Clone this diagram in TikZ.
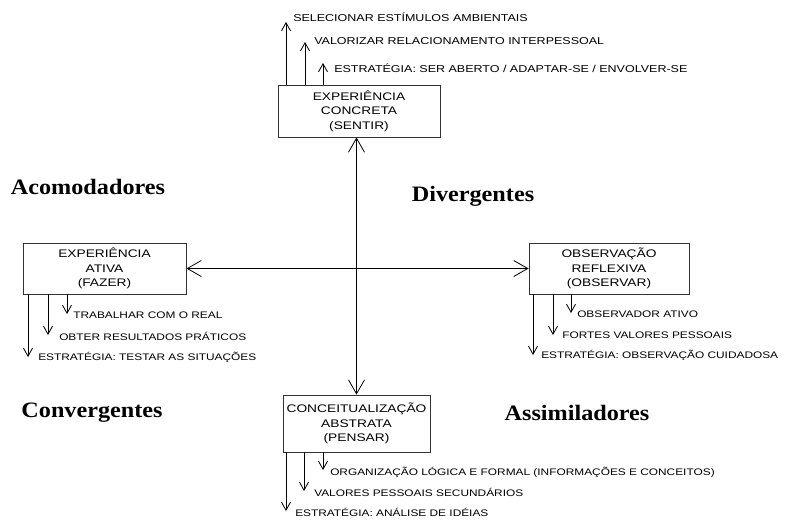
\documentclass[tikz,border=0pt]{standalone}
\usepackage{fontspec}
\setmainfont{Liberation Serif}
\setsansfont{Liberation Sans}
\usepackage{tikz}
\usetikzlibrary{positioning, calc, arrows.meta}
\tikzset{
    etapa/.style={
        draw=black!80, line width=0.8pt, fill=white, align=center,
        xscale=1.25, transform shape,
        minimum width=129.6pt, minimum height=52pt, inner sep=0pt,
        font=\sffamily\fontsize{11}{14.5}\selectfont
    },
    nota/.style={
        anchor=west, inner sep=0pt, xscale=1.25, transform shape,
        font=\sffamily\fontsize{9.5}{11}\selectfont
    },
    notatopo/.style={
        nota, font=\sffamily\fontsize{10}{11}\selectfont
    },
    estilo/.style={
        xscale=1.1, transform shape,
        font=\bfseries\fontsize{22}{24}\selectfont
    },
    eixo/.style={
        {Straight Barb[length=14pt,width=16pt]}-{Straight Barb[length=14pt,width=16pt]}, line width=0.8pt
    },
    seta/.style={
        -{Straight Barb[length=8pt,width=9pt]}, line width=0.8pt
    }
}
\begin{document}
\begin{tikzpicture}[x=1pt, y=-1pt]
    \useasboundingbox (0,0) rectangle (802,519);

    % --- AS QUATRO ETAPAS ---
    \node[etapa] (EC) at (359,111) {EXPERIÊNCIA\\CONCRETA\\(SENTIR)};
    \node[etapa, minimum width=130.4pt, minimum height=51pt] (EA) at (104.5,268.5) {EXPERIÊNCIA\\ATIVA\\(FAZER)};
    \node[etapa, minimum width=128pt, minimum height=51pt] (OR) at (609,268.5) {OBSERVAÇÃO\\REFLEXIVA\\(OBSERVAR)};
    \node[etapa, minimum width=117.6pt, minimum height=57pt] (CA) at (356.5,423.5) {CONCEITUALIZAÇÃO\\ABSTRATA\\(PENSAR)};

    % --- EIXOS ---
    \draw[eixo] (EC.south -| CA.north) -- (CA.north);
    \draw[eixo] (EA.east) -- (OR.west);

    % --- ESTILOS ---
    \node[estilo] (acomod) at (88,187) {Acomodadores};
    \node[estilo] (diverg) at (473,196) {Divergentes};
    \node[estilo] (converg) at (92,413) {Convergentes};
    \node[estilo] (assimil) at (577,413) {Assimiladores};

    % --- SENTIR ---
    \coordinate (pc1) at (286,22);
    \coordinate (pc2) at (305,42);
    \coordinate (pc3) at (323,63);
    \draw[seta] (EC.north -| pc1) -- (pc1);
    \draw[seta] (EC.north -| pc2) -- (pc2);
    \draw[seta] (EC.north -| pc3) -- (pc3);
    \node[notatopo] (ec1) at (293,17) {SELECIONAR ESTÍMULOS AMBIENTAIS};
    \node[notatopo] (ec2) at (314,41) {VALORIZAR RELACIONAMENTO INTERPESSOAL};
    \node[notatopo] (ec3) at (334,68) {ESTRATÉGIA: SER ABERTO / ADAPTAR-SE / ENVOLVER-SE};

    % --- FAZER ---
    \coordinate (pa1) at (28,357);
    \coordinate (pa2) at (48,335);
    \coordinate (pa3) at (67,314);
    \draw[seta] (EA.south -| pa1) -- (pa1);
    \draw[seta] (EA.south -| pa2) -- (pa2);
    \draw[seta] (EA.south -| pa3) -- (pa3);
    \node[nota] (ea1) at (73,315) {TRABALHAR COM O REAL};
    \node[nota] (ea2) at (59,336) {OBTER RESULTADOS PRÁTICOS};
    \node[nota] (ea3) at (38,357) {ESTRATÉGIA: TESTAR AS SITUAÇÕES};

    % --- OBSERVAR ---
    \coordinate (po1) at (533,355);
    \coordinate (po2) at (553,335);
    \coordinate (po3) at (571,313);
    \draw[seta] (OR.south -| po1) -- (po1);
    \draw[seta] (OR.south -| po2) -- (po2);
    \draw[seta] (OR.south -| po3) -- (po3);
    \node[nota] (or1) at (577,314) {OBSERVADOR ATIVO};
    \node[nota] (or2) at (562,335) {FORTES VALORES PESSOAIS};
    \node[nota] (or3) at (541,355) {ESTRATÉGIA: OBSERVAÇÃO CUIDADOSA};

    % --- PENSAR ---
    \coordinate (pp1) at (286,511);
    \coordinate (pp2) at (304,491);
    \coordinate (pp3) at (323,470);
    \draw[seta] (CA.south -| pp1) -- (pp1);
    \draw[seta] (CA.south -| pp2) -- (pp2);
    \draw[seta] (CA.south -| pp3) -- (pp3);
    \node[nota] (ca1) at (330,472) {ORGANIZAÇÃO LÓGICA E FORMAL (INFORMAÇÕES E CONCEITOS)};
    \node[nota] (ca2) at (314,492) {VALORES PESSOAIS SECUNDÁRIOS};
    \node[nota] (ca3) at (295,512) {ESTRATÉGIA: ANÁLISE DE IDÉIAS};
\end{tikzpicture}
\end{document}
